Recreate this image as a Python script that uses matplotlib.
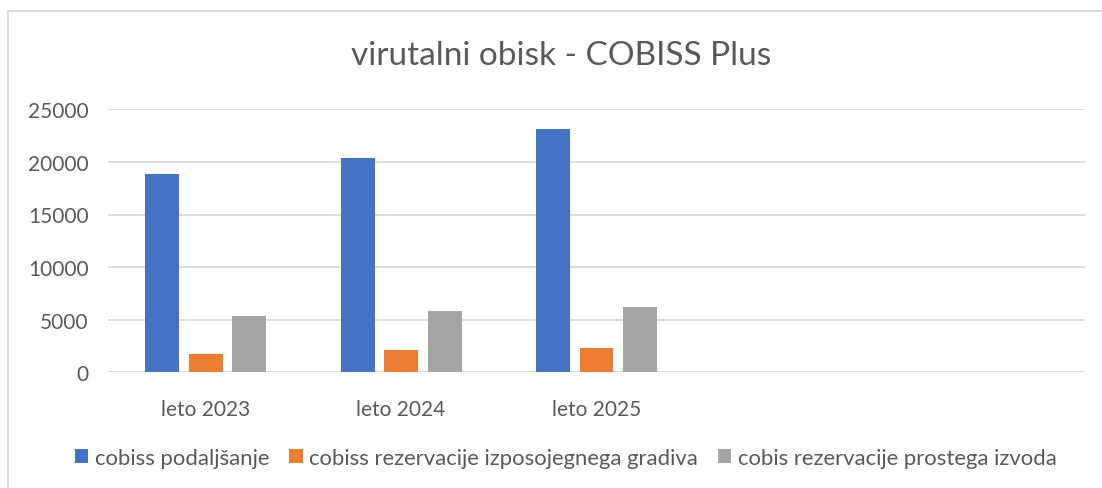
import matplotlib
matplotlib.use("Agg")
from matplotlib import pyplot as plt
from matplotlib.lines import Line2D
import numpy as np

categories = ["leto 2023", "leto 2024", "leto 2025", "", ""]
series_names = ["cobiss podaljšanje",
                "cobiss rezervacije izposojegnega gradiva",
                "cobis rezervacije prostega izvoda"]
podaljsanje = [18820, 20370, 23130]
rezervacije_izposojenega = [1740, 2150, 2310]
rezervacije_prostega = [5380, 5800, 6210]
y_ticks = [0, 5000, 10000, 15000, 20000, 25000]

colors = ["#4472C4", "#ED7D31", "#A5A5A5"]
text_color = "#595959"
grid_color = "#D9D9D9"

plt.rcParams["font.family"] = ["Lato", "DejaVu Sans"]

W, H = 1102, 489
fig = plt.figure(figsize=(W / 100, H / 100), dpi=100)
ax = fig.add_axes([108 / W, 1 - 373.3 / H, (1085 - 108) / W, (373.3 - 110.3) / H])

x = np.arange(len(categories))
step = 0.2227
width = 0.174
for i, (vals, name) in enumerate(zip([podaljsanje, rezervacije_izposojenega, rezervacije_prostega], series_names)):
    xs = np.arange(len(vals))
    ax.bar(xs + (i - 1) * step, vals, width, color=colors[i], label=name, zorder=3)

ax.set_ylim(0, 25000)
ax.set_xlim(-0.5, len(categories) - 0.5)
ax.set_yticks(y_ticks)
ax.set_yticklabels([str(v) for v in y_ticks])
ax.set_xticks(x)
ax.set_xticklabels(categories)
ax.tick_params(axis="both", length=0, labelsize=15, colors=text_color)
ax.tick_params(axis="x", pad=19)
ax.tick_params(axis="y", pad=14)
ax.grid(axis="y", color=grid_color, linewidth=1.3, zorder=0)
for s in ax.spines.values():
    s.set_visible(False)

fig.text(561 / W, 1 - 56 / H, "virutalni obisk - COBISS Plus", ha="center", va="center",
         fontsize=24, color=text_color)

fig.legend(loc="center", bbox_to_anchor=(566 / W, 1 - 459 / H), ncol=3, frameon=False,
           fontsize=15.9, labelcolor=text_color, handlelength=0.6, handleheight=0.6,
           handletextpad=0.3, columnspacing=0.9)

# chart frame (left and top edges visible)
fig.add_artist(Line2D([8 / W, 8 / W], [0, 1 - 12 / H], transform=fig.transFigure,
                      color=grid_color, linewidth=1.3))
fig.add_artist(Line2D([8 / W, 1], [1 - 12 / H, 1 - 12 / H], transform=fig.transFigure,
                      color=grid_color, linewidth=1.3))

fig.savefig("out.png", dpi=100)
